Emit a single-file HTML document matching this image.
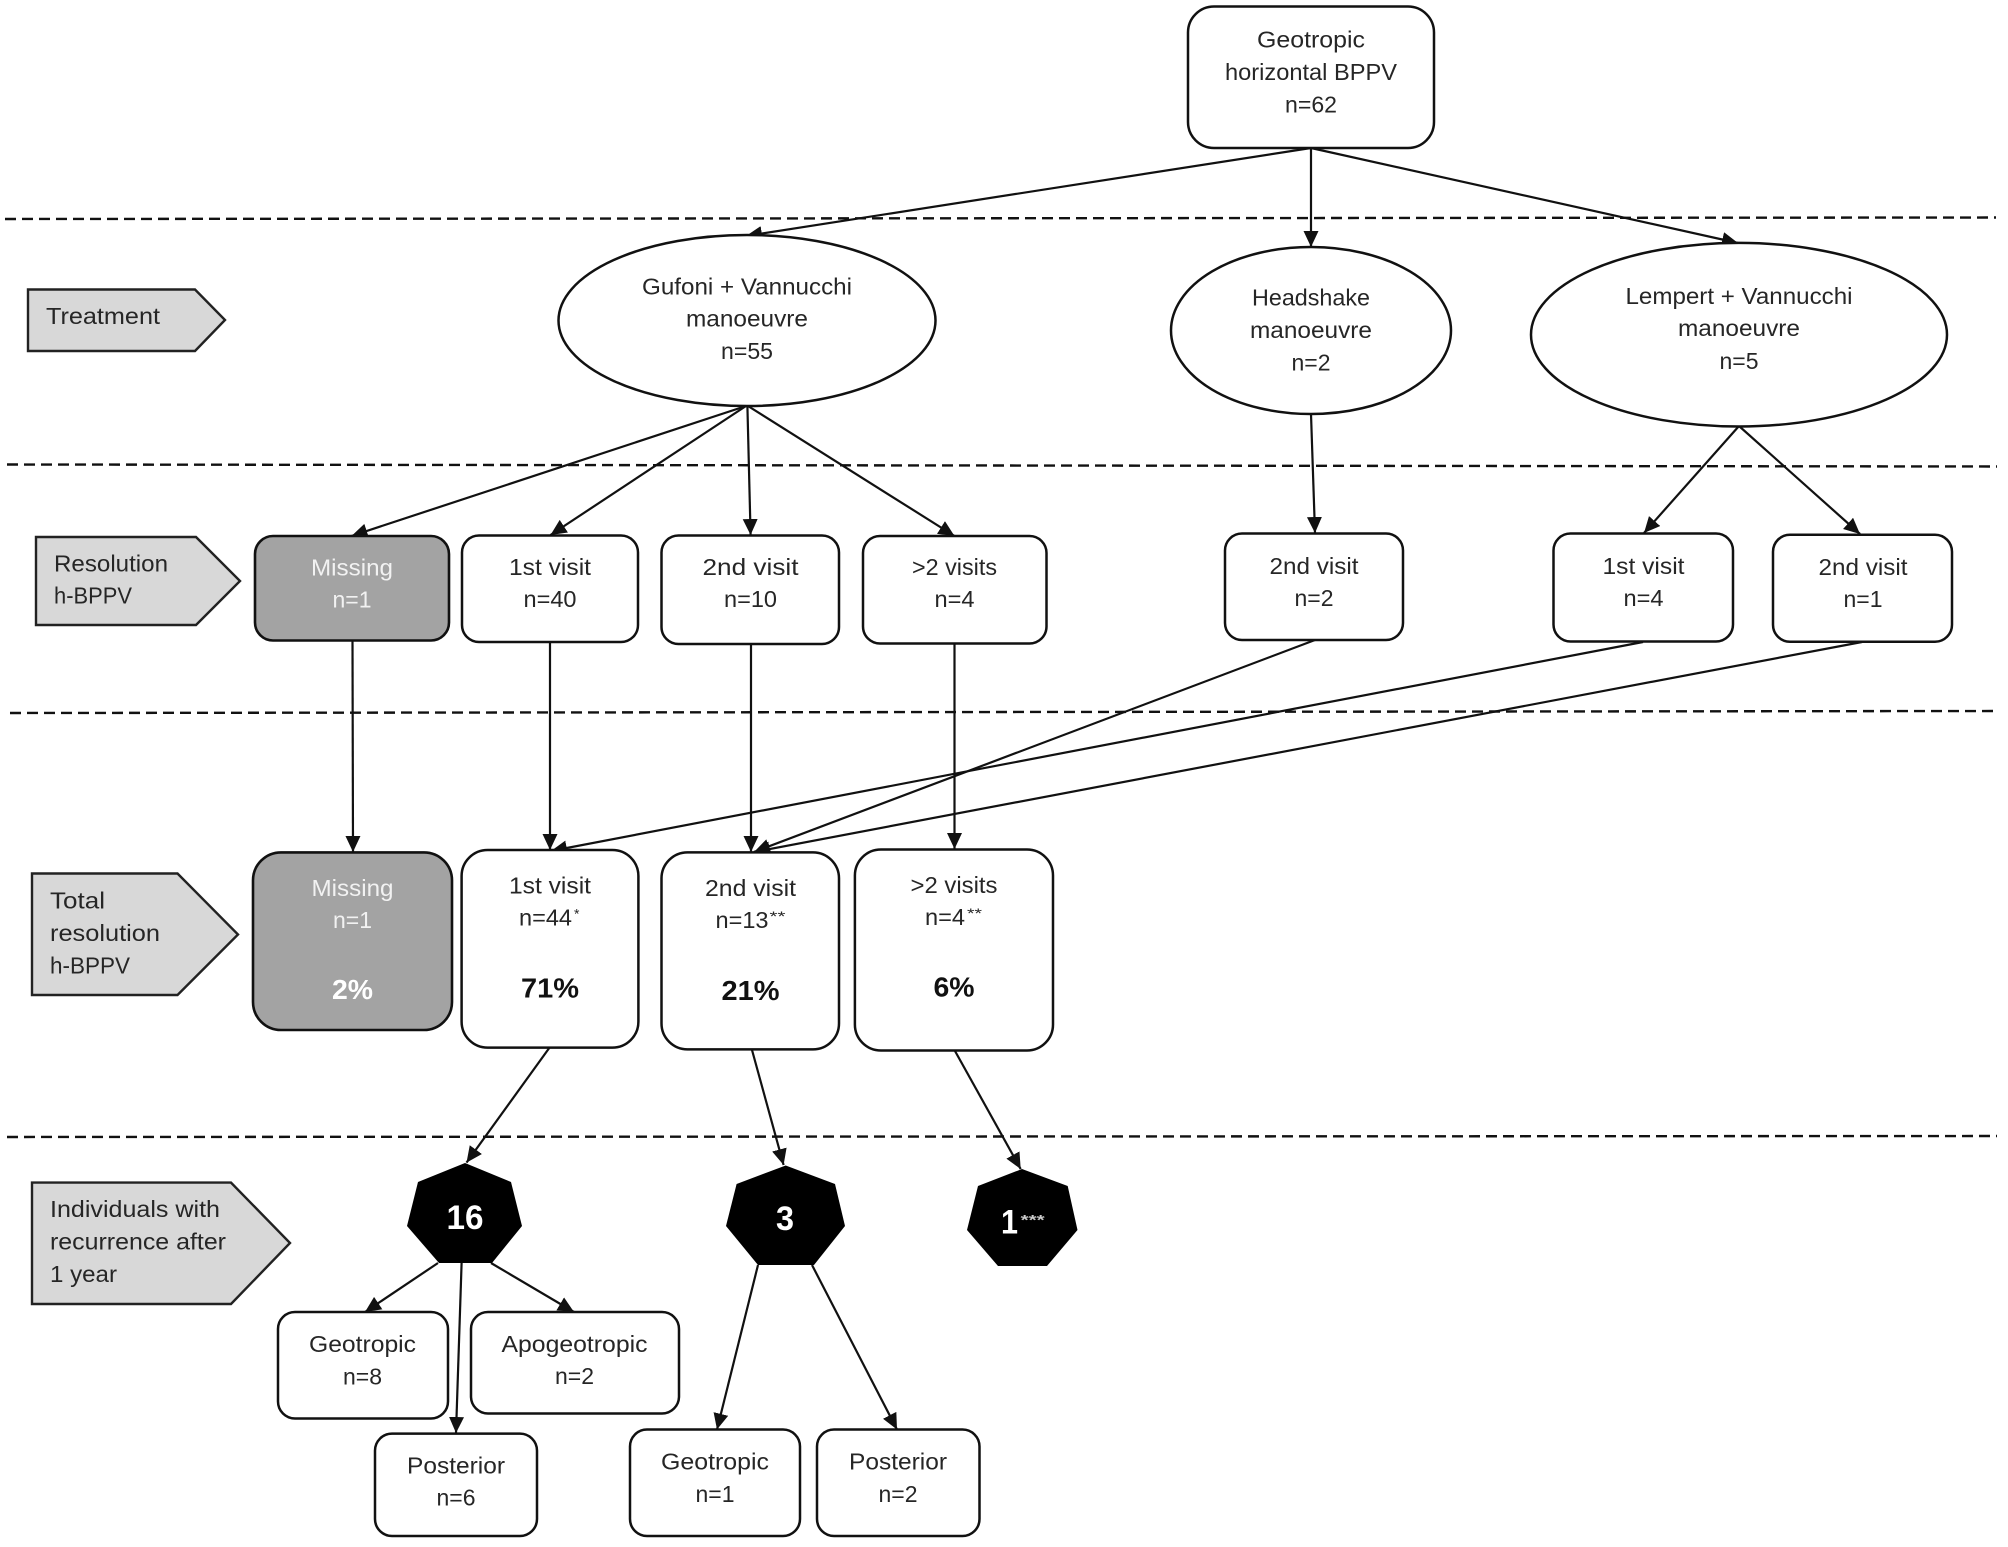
<!DOCTYPE html>
<html>
<head>
<meta charset="utf-8">
<style>
html,body{margin:0;padding:0;background:#fff;}
svg{display:block;}
text{font-family:"Liberation Sans",sans-serif;font-size:23px;fill:#262626;text-anchor:middle;}
text.l{text-anchor:start;}
text.w{fill:#f2f2f2;}
text.b{font-weight:bold;font-size:28px;fill:#111;}
text.bw{font-weight:bold;font-size:28px;fill:#fff;}
text.h{font-weight:bold;font-size:34px;fill:#fff;}
text.s{font-size:14px;text-anchor:start;}
.d{stroke:#111;stroke-width:2.4;stroke-dasharray:11 6;fill:none;}
.a{stroke:#111;stroke-width:2.2;fill:none;marker-end:url(#ah);}
.n{fill:#fff;stroke:#111;stroke-width:2.5;}
.g{fill:#a3a3a3;stroke:#111;stroke-width:2.6;}
.p{fill:#d8d8d8;stroke:#222;stroke-width:2.4;}
</style>
</head>
<body>
<svg width="2008" height="1547" viewBox="0 0 2008 1547" xmlns="http://www.w3.org/2000/svg">
<defs>
<marker id="ah" markerUnits="userSpaceOnUse" markerWidth="18" markerHeight="16" refX="16" refY="7.5" orient="auto">
<path d="M0,0 L16,7.5 L0,15 Z" fill="#111"/>
</marker>
</defs>
<rect width="2008" height="1547" fill="#fff"/>

<!-- dashed separators -->
<line class="d" x1="5" y1="219" x2="1996" y2="217.5"/>
<line class="d" x1="7" y1="464.5" x2="1997" y2="466.5"/>
<line class="d" x1="10" y1="713" x2="1997" y2="711"/>
<line class="d" x1="7" y1="1137" x2="1997" y2="1136"/>

<!-- connectors -->
<line class="a" x1="1311" y1="148" x2="746" y2="236"/>
<line class="a" x1="1311" y1="148" x2="1311" y2="247"/>
<line class="a" x1="1311" y1="148" x2="1738" y2="243"/>
<line class="a" x1="746" y1="406" x2="351.5" y2="536"/>
<line class="a" x1="746" y1="406" x2="550.5" y2="535"/>
<line class="a" x1="747.4" y1="406" x2="750.6" y2="535"/>
<line class="a" x1="748" y1="406" x2="954.5" y2="536"/>
<line class="a" x1="1311" y1="414" x2="1315" y2="533"/>
<line class="a" x1="1739" y1="426" x2="1644" y2="533"/>
<line class="a" x1="1739" y1="426" x2="1860" y2="534"/>
<line class="a" x1="352.5" y1="641" x2="353" y2="852"/>
<line class="a" x1="550" y1="642" x2="550" y2="850"/>
<line class="a" x1="751" y1="644" x2="751" y2="852"/>
<line class="a" x1="954.5" y1="644" x2="954.5" y2="849"/>
<line class="a" x1="1315" y1="640" x2="754" y2="852"/>
<line class="a" x1="1643" y1="642" x2="551" y2="851"/>
<line class="a" x1="1862" y1="642" x2="754" y2="852"/>
<line class="a" x1="549.5" y1="1047.6" x2="466.5" y2="1162.6"/>
<line class="a" x1="752" y1="1050" x2="783.6" y2="1165"/>
<line class="a" x1="955" y1="1051" x2="1020.7" y2="1169"/>
<line class="a" x1="438" y1="1263" x2="365" y2="1312"/>
<line class="a" x1="461.6" y1="1263" x2="456" y2="1433"/>
<line class="a" x1="491" y1="1263" x2="574" y2="1312"/>
<line class="a" x1="758" y1="1265" x2="717" y2="1429.5"/>
<line class="a" x1="812" y1="1265" x2="897" y2="1429.5"/>

<!-- top -->
<rect class="n" x="1188" y="6.5" width="246" height="141.5" rx="26"/>
<text x="1311" y="47.7" textLength="108" lengthAdjust="spacingAndGlyphs">Geotropic</text>
<text x="1311" y="80" textLength="172" lengthAdjust="spacingAndGlyphs">horizontal BPPV</text>
<text x="1311" y="112.7" textLength="52" lengthAdjust="spacingAndGlyphs">n=62</text>

<!-- ellipses -->
<ellipse class="n" cx="747" cy="320.5" rx="188.5" ry="85.5"/>
<text x="747" y="294.5" textLength="210" lengthAdjust="spacingAndGlyphs">Gufoni + Vannucchi</text>
<text x="747" y="326.5" textLength="122" lengthAdjust="spacingAndGlyphs">manoeuvre</text>
<text x="747" y="359" textLength="52" lengthAdjust="spacingAndGlyphs">n=55</text>

<ellipse class="n" cx="1311" cy="330.5" rx="140" ry="83.5"/>
<text x="1311" y="305.5" textLength="118" lengthAdjust="spacingAndGlyphs">Headshake</text>
<text x="1311" y="338" textLength="122" lengthAdjust="spacingAndGlyphs">manoeuvre</text>
<text x="1311" y="370.5" textLength="39" lengthAdjust="spacingAndGlyphs">n=2</text>

<ellipse class="n" cx="1739" cy="334.7" rx="208" ry="91.8"/>
<text x="1739" y="304" textLength="227" lengthAdjust="spacingAndGlyphs">Lempert + Vannucchi</text>
<text x="1739" y="336" textLength="122" lengthAdjust="spacingAndGlyphs">manoeuvre</text>
<text x="1739" y="369" textLength="39" lengthAdjust="spacingAndGlyphs">n=5</text>

<!-- pentagons -->
<polygon class="p" points="28,289.5 195,289.5 225,320 195,351 28,351"/>
<text class="l" x="46" y="324" textLength="114" lengthAdjust="spacingAndGlyphs">Treatment</text>

<polygon class="p" points="36,537 196,537 240,581 196,625 36,625"/>
<text class="l" x="54" y="571.5" textLength="114" lengthAdjust="spacingAndGlyphs">Resolution</text>
<text class="l" x="54" y="603.5" textLength="78" lengthAdjust="spacingAndGlyphs">h-BPPV</text>

<polygon class="p" points="32,873.5 177.5,873.5 238,934.5 177.5,995 32,995"/>
<text class="l" x="50" y="908.7" textLength="55" lengthAdjust="spacingAndGlyphs">Total</text>
<text class="l" x="50" y="941" textLength="110" lengthAdjust="spacingAndGlyphs">resolution</text>
<text class="l" x="50" y="973.7" textLength="80" lengthAdjust="spacingAndGlyphs">h-BPPV</text>

<polygon class="p" points="32,1182.6 231,1182.6 290,1243 231,1304 32,1304"/>
<text class="l" x="50" y="1217" textLength="170" lengthAdjust="spacingAndGlyphs">Individuals with</text>
<text class="l" x="50" y="1249.7" textLength="176" lengthAdjust="spacingAndGlyphs">recurrence after</text>
<text class="l" x="50" y="1282" textLength="67" lengthAdjust="spacingAndGlyphs">1 year</text>

<!-- resolution row -->
<rect class="g" x="255" y="536" width="194" height="104.5" rx="18"/>
<text class="w" x="352" y="575.5" textLength="82" lengthAdjust="spacingAndGlyphs">Missing</text>
<text class="w" x="352" y="607.5" textLength="39" lengthAdjust="spacingAndGlyphs">n=1</text>

<rect class="n" x="462" y="535.5" width="176" height="106.5" rx="17"/>
<text x="550" y="575" textLength="82" lengthAdjust="spacingAndGlyphs">1st visit</text>
<text x="550" y="607" textLength="53" lengthAdjust="spacingAndGlyphs">n=40</text>

<rect class="n" x="661.5" y="535.5" width="177.5" height="108.5" rx="17"/>
<text x="750.5" y="575" textLength="96" lengthAdjust="spacingAndGlyphs">2nd  visit</text>
<text x="750.5" y="607" textLength="53" lengthAdjust="spacingAndGlyphs">n=10</text>

<rect class="n" x="863" y="536" width="183.5" height="107.5" rx="17"/>
<text x="954.5" y="575" textLength="85" lengthAdjust="spacingAndGlyphs">&gt;2 visits</text>
<text x="954.5" y="607" textLength="40" lengthAdjust="spacingAndGlyphs">n=4</text>

<rect class="n" x="1225" y="533.5" width="178" height="106.5" rx="17"/>
<text x="1314" y="574" textLength="89" lengthAdjust="spacingAndGlyphs">2nd visit</text>
<text x="1314" y="606" textLength="39" lengthAdjust="spacingAndGlyphs">n=2</text>

<rect class="n" x="1553.5" y="533.5" width="179.5" height="108" rx="17"/>
<text x="1643.5" y="574" textLength="82" lengthAdjust="spacingAndGlyphs">1st visit</text>
<text x="1643.5" y="606" textLength="40" lengthAdjust="spacingAndGlyphs">n=4</text>

<rect class="n" x="1773" y="534.7" width="179" height="107" rx="17"/>
<text x="1863" y="575" textLength="89" lengthAdjust="spacingAndGlyphs">2nd visit</text>
<text x="1863" y="607" textLength="39" lengthAdjust="spacingAndGlyphs">n=1</text>

<!-- total row -->
<rect class="g" x="253" y="852.4" width="199" height="177.6" rx="28"/>
<text class="w" x="352.5" y="896" textLength="82" lengthAdjust="spacingAndGlyphs">Missing</text>
<text class="w" x="352.5" y="928" textLength="39" lengthAdjust="spacingAndGlyphs">n=1</text>
<text class="bw" x="352.5" y="999" textLength="41" lengthAdjust="spacingAndGlyphs">2%</text>

<rect class="n" x="461.6" y="850" width="176.8" height="197.6" rx="26"/>
<text x="550" y="893.5" textLength="82" lengthAdjust="spacingAndGlyphs">1st visit</text>
<text class="l" x="519" y="925.5" textLength="53" lengthAdjust="spacingAndGlyphs">n=44</text>
<text class="s" x="574" y="918.5">*</text>
<text class="b" x="550" y="997.7" textLength="58" lengthAdjust="spacingAndGlyphs">71%</text>

<rect class="n" x="661.5" y="852.4" width="177.5" height="197" rx="26"/>
<text x="750.5" y="896" textLength="91" lengthAdjust="spacingAndGlyphs">2nd visit</text>
<text class="l" x="715.5" y="928" textLength="53" lengthAdjust="spacingAndGlyphs">n=13</text>
<text class="s" x="769.5" y="921" textLength="16" lengthAdjust="spacingAndGlyphs">**</text>
<text class="b" x="750.5" y="1000" textLength="58" lengthAdjust="spacingAndGlyphs">21%</text>

<rect class="n" x="854.9" y="849.5" width="198.1" height="201" rx="26"/>
<text x="954" y="893" textLength="87" lengthAdjust="spacingAndGlyphs">&gt;2 visits</text>
<text class="l" x="925" y="925" textLength="40" lengthAdjust="spacingAndGlyphs">n=4</text>
<text class="s" x="967" y="918" textLength="15" lengthAdjust="spacingAndGlyphs">**</text>
<text class="b" x="954" y="996.7" textLength="41" lengthAdjust="spacingAndGlyphs">6%</text>

<!-- heptagons -->
<polygon fill="#000" points="465,1163 511,1182 522,1226 492,1263 439,1263 407,1226 418,1182"/>
<text class="h" x="465" y="1229" textLength="37" lengthAdjust="spacingAndGlyphs">16</text>
<polygon fill="#000" points="785.7,1165.5 835,1184 845,1226 814,1265 758,1265 726,1226 736.6,1184"/>
<text class="h" x="785" y="1230" textLength="18" lengthAdjust="spacingAndGlyphs">3</text>
<polygon fill="#000" points="1022,1169 1067.7,1186 1077.5,1230 1047,1266 998,1266 967,1230 978,1186"/>
<text class="h" x="1009.5" y="1233.5" textLength="17" lengthAdjust="spacingAndGlyphs">1</text>
<text class="s" x="1020.7" y="1224.5" style="fill:#ccc;font-weight:bold" textLength="24" lengthAdjust="spacingAndGlyphs">***</text>

<!-- bottom boxes -->
<rect class="n" x="278" y="1312" width="170" height="106.5" rx="17"/>
<text x="362.5" y="1352" textLength="107" lengthAdjust="spacingAndGlyphs">Geotropic</text>
<text x="362.5" y="1384.5" textLength="39" lengthAdjust="spacingAndGlyphs">n=8</text>

<rect class="n" x="471" y="1312" width="208" height="101.5" rx="17"/>
<text x="574.5" y="1352" textLength="146" lengthAdjust="spacingAndGlyphs">Apogeotropic</text>
<text x="574.5" y="1384" textLength="39" lengthAdjust="spacingAndGlyphs">n=2</text>

<rect class="n" x="375" y="1433.6" width="162" height="102.4" rx="17"/>
<text x="456" y="1473.5" textLength="98" lengthAdjust="spacingAndGlyphs">Posterior</text>
<text x="456" y="1505.5" textLength="39" lengthAdjust="spacingAndGlyphs">n=6</text>

<rect class="n" x="630" y="1429.5" width="170" height="106.5" rx="17"/>
<text x="715" y="1469.5" textLength="108" lengthAdjust="spacingAndGlyphs">Geotropic</text>
<text x="715" y="1502" textLength="39" lengthAdjust="spacingAndGlyphs">n=1</text>

<rect class="n" x="817" y="1429.5" width="162.5" height="106.5" rx="17"/>
<text x="898" y="1469.5" textLength="98" lengthAdjust="spacingAndGlyphs">Posterior</text>
<text x="898" y="1502" textLength="39" lengthAdjust="spacingAndGlyphs">n=2</text>
</svg>
</body>
</html>
